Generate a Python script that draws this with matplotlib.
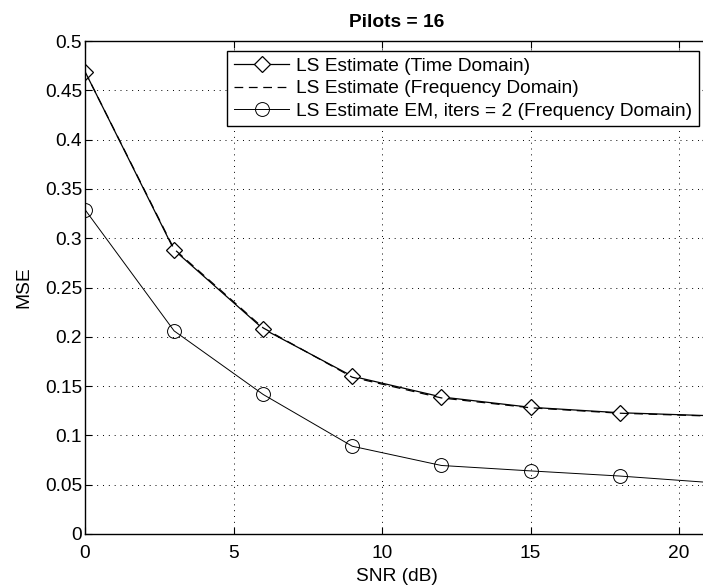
import matplotlib
matplotlib.use("Agg")
import matplotlib.pyplot as plt

plt.rcParams["font.family"] = ["Liberation Sans", "DejaVu Sans"]

# SNR 값 (dB)
snr = [0, 3, 6, 9, 12, 15, 18, 24]
mse_time = [0.469, 0.288, 0.208, 0.160, 0.139, 0.1285, 0.123, 0.117]
mse_freq = [0.469, 0.289, 0.209, 0.159, 0.138, 0.128, 0.1225, 0.1168]
mse_em = [0.329, 0.206, 0.1415, 0.089, 0.0695, 0.064, 0.0588, 0.0458]

labels = [
    "LS Estimate (Time Domain)",
    "LS Estimate (Frequency Domain)",
    "LS Estimate EM, iters = 2 (Frequency Domain)",
]

W, H = 703, 585
FS = 13.8
fig = plt.figure(figsize=(W / 100, H / 100), dpi=100)
ax = fig.add_axes([85 / W, 1 - 534 / H, (708.7 - 85) / W, (534 - 41) / H])

ax.plot(snr, mse_time, "k-", lw=0.9, marker="D", ms=7.8, mfc="white", mec="k", mew=0.9, label=labels[0])
ax.plot(snr, mse_freq, "k--", lw=0.9, dashes=(7, 4.5), label=labels[1])
ax.plot(snr, mse_em, "k-", lw=0.7, marker="o", ms=10, mfc="none", mec="k", mew=0.7, label=labels[2])

ax.set_xlim(0, 21)
ax.set_ylim(0, 0.5)
ax.set_xticks([0, 5, 10, 15, 20])
ax.set_yticks([0, 0.05, 0.1, 0.15, 0.2, 0.25, 0.3, 0.35, 0.4, 0.45, 0.5])
ax.set_yticklabels(["0", "0.05", "0.1", "0.15", "0.2", "0.25", "0.3", "0.35", "0.4", "0.45", "0.5"])
ax.tick_params(direction="in", top=True, right=True, labelsize=FS, length=5, width=0.8)
ax.tick_params(axis="y", pad=2)
ax.tick_params(axis="x", pad=8)
ax.grid(True, color="k", linestyle=(0, (1, 5)), linewidth=0.7)
for s in ax.spines.values():
    s.set_linewidth(1.0)

ax.set_title("Pilots = 16", fontsize=FS, fontweight="bold", pad=10)
ax.set_xlabel("SNR (dB)", fontsize=FS, labelpad=4)
ax.set_ylabel("MSE", fontsize=FS, labelpad=9)

leg = ax.legend(loc="upper right", bbox_to_anchor=(699 / W, 1 - 50.7 / H), bbox_transform=fig.transFigure,
                borderaxespad=0, fancybox=False, edgecolor="k", framealpha=1, fontsize=FS,
                handlelength=2.9, handletextpad=0.35, labelspacing=0.26, borderpad=0.35)
leg.get_frame().set_linewidth(1.0)

fig.savefig("out.png", dpi=100)
